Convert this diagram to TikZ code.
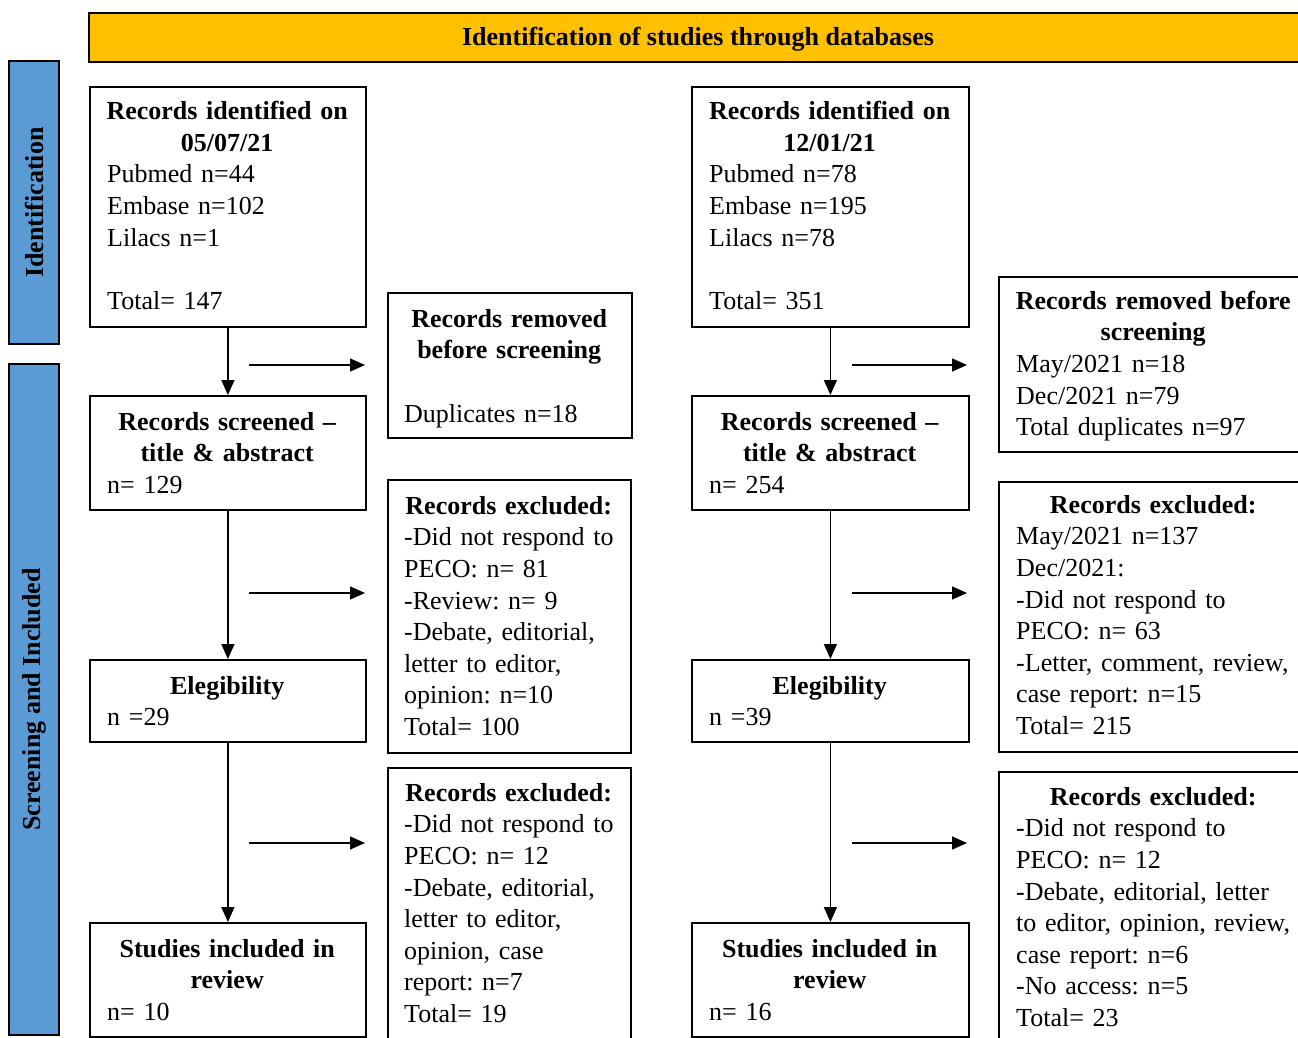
\documentclass[tikz,border=0pt]{standalone}
\usepackage{fontspec}
\setmainfont{Liberation Serif}
\usetikzlibrary{arrows.meta}
\definecolor{banyellow}{HTML}{FFC000}
\definecolor{barblue}{HTML}{5B9BD5}
\frenchspacing
\makeatletter
\newcommand\hdl[1]{{\leftskip=0pt plus 1fil minus 30pt\rightskip=0pt plus 1fil minus 30pt\parfillskip=0pt\parindent=0pt\let\\\@centercr\bfseries\strut#1\par}}
\makeatother
\newcommand\bodyl{\rightskip=0pt plus 1fil minus 40pt\relax}
\begin{document}
\begin{tikzpicture}[x=1pt,y=-1pt,
  box/.style={draw=black,line width=1.8pt,fill=white,inner sep=0pt,anchor=north west},
  txt/.style={inner sep=0pt,anchor=north west,align=left,font=\fontsize{26}{31.6}\selectfont\frenchspacing},
  arr/.style={line width=1.4pt,-{Triangle[length=15pt,width=13pt]}},
  bar/.style={draw=black,line width=1.8pt,fill=barblue,rotate=90,minimum height=50pt,inner sep=0pt,font=\fontsize{26}{31.6}\selectfont\bfseries},
]
\useasboundingbox (0,0) rectangle (1298,1038);
\clip (0,0) rectangle (1298,1038);
\fill[white] (0,0) rectangle (1298,1038);

% banner
\node[draw=black,line width=1.8pt,fill=banyellow,anchor=north west,minimum width=1220pt,minimum height=49pt,inner sep=0pt] (ban) at (88,12) {};
\node[inner sep=0pt,anchor=base,font=\fontsize{26}{31.6}\selectfont\bfseries] (bant) at (698,46) {Identification of studies through databases};

% side bars
\node[bar,minimum width=283pt] (s1) at (34,202.5) {Identification};
\node[bar,minimum width=671pt] (s2) at (34,699.5) {Screening and Included};

% left column
\node[box,minimum width=276pt,minimum height=240pt] (a1) at (89,86) {};
\node[txt,text width=240pt] (a1t) at (107,97.4) {\hdl{Records identified on\\05/07/21}\bodyl Pubmed n=44\\Embase n=102\\Lilacs n=1\\[31.6pt]Total= 147};
\node[box,minimum width=276pt,minimum height=114pt] (a2) at (89,395) {};
\node[txt,text width=240pt] (a2t) at (107,407.9) {\hdl{Records screened –\\title \& abstract}\bodyl n= 129};
\node[box,minimum width=276pt,minimum height=82pt] (a3) at (89,659) {};
\node[txt,text width=240pt] (a3t) at (107,671.9) {\hdl{Elegibility}\bodyl n =29};
\node[box,minimum width=276pt,minimum height=114pt] (a4) at (89,922) {};
\node[txt,text width=240pt] (a4t) at (107,934.9) {\hdl{Studies included in\\review}\bodyl n= 10};

% left exclusion column
\node[box,minimum width=244pt,minimum height=145pt] (b1) at (387,292) {};
\node[txt,text width=210pt] (b1t) at (404,304.9) {\hdl{Records removed\\before screening}\bodyl\mbox{}\\Duplicates n=18};
\node[box,minimum width=243pt,minimum height=273pt] (b2) at (387,479) {};
\node[txt,text width=209pt] (b2t) at (404,491.9) {\hdl{Records excluded:}\bodyl -Did not respond to\\PECO: n= 81\\-Review: n= 9\\-Debate, editorial,\\letter to editor,\\opinion: n=10\\Total= 100};
\node[box,minimum width=243pt,minimum height=283pt] (b3) at (387,767) {};
\node[txt,text width=209pt] (b3t) at (404,778.9) {\hdl{Records excluded:}\bodyl -Did not respond to\\PECO: n= 12\\-Debate, editorial,\\letter to editor,\\opinion, case\\report: n=7\\Total= 19};

% right column
\node[box,minimum width=277pt,minimum height=240pt] (c1) at (691,86) {};
\node[txt,text width=241pt] (c1t) at (709,97.4) {\hdl{Records identified on\\12/01/21}\bodyl Pubmed n=78\\Embase n=195\\Lilacs n=78\\[31.6pt]Total= 351};
\node[box,minimum width=277pt,minimum height=114pt] (c2) at (691,395) {};
\node[txt,text width=241pt] (c2t) at (709,407.9) {\hdl{Records screened –\\title \& abstract}\bodyl n= 254};
\node[box,minimum width=277pt,minimum height=82pt] (c3) at (691,659) {};
\node[txt,text width=241pt] (c3t) at (709,671.9) {\hdl{Elegibility}\bodyl n =39};
\node[box,minimum width=277pt,minimum height=114pt] (c4) at (691,922) {};
\node[txt,text width=241pt] (c4t) at (709,934.9) {\hdl{Studies included in\\review}\bodyl n= 16};

% right exclusion column
\node[box,minimum width=310pt,minimum height=175pt] (d1) at (998,276) {};
\node[txt,text width=274pt] (d1t) at (1016,286.9) {\hdl{Records removed before\\screening}\bodyl May/2021 n=18\\Dec/2021 n=79\\Total duplicates n=97};
\node[box,minimum width=310pt,minimum height=270pt] (d2) at (998,481) {};
\node[txt,text width=274pt] (d2t) at (1016,490.9) {\hdl{Records excluded:}\bodyl May/2021 n=137\\Dec/2021:\\-Did not respond to\\PECO: n= 63\\-Letter, comment, review,\\case report: n=15\\Total= 215};
\node[box,minimum width=310pt,minimum height=279pt] (d3) at (998,771) {};
\node[txt,text width=274pt] (d3t) at (1016,782.9) {\hdl{Records excluded:}\bodyl -Did not respond to\\PECO: n= 12\\-Debate, editorial, letter\\to editor, opinion, review,\\case report: n=6\\-No access: n=5\\Total= 23};

% vertical arrows
\draw[arr] (a1.south) -- (a2.north);
\draw[arr] (a2.south) -- (a3.north);
\draw[arr] (a3.south) -- (a4.north);
\draw[arr] (c1.south) -- (c2.north);
\draw[arr] (c2.south) -- (c3.north);
\draw[arr] (c3.south) -- (c4.north);

% horizontal arrows
\coordinate (p1) at (249,365); \coordinate (q1) at (365,365);
\coordinate (p2) at (249,593); \coordinate (q2) at (365,593);
\coordinate (p3) at (249,843); \coordinate (q3) at (365,843);
\coordinate (r1) at (852,365); \coordinate (t1) at (967,365);
\coordinate (r2) at (852,593); \coordinate (t2) at (967,593);
\coordinate (r3) at (852,843); \coordinate (t3) at (967,843);
\draw[arr] (p1) -- (q1);
\draw[arr] (p2) -- (q2);
\draw[arr] (p3) -- (q3);
\draw[arr] (r1) -- (t1);
\draw[arr] (r2) -- (t2);
\draw[arr] (r3) -- (t3);
\end{tikzpicture}
\end{document}
